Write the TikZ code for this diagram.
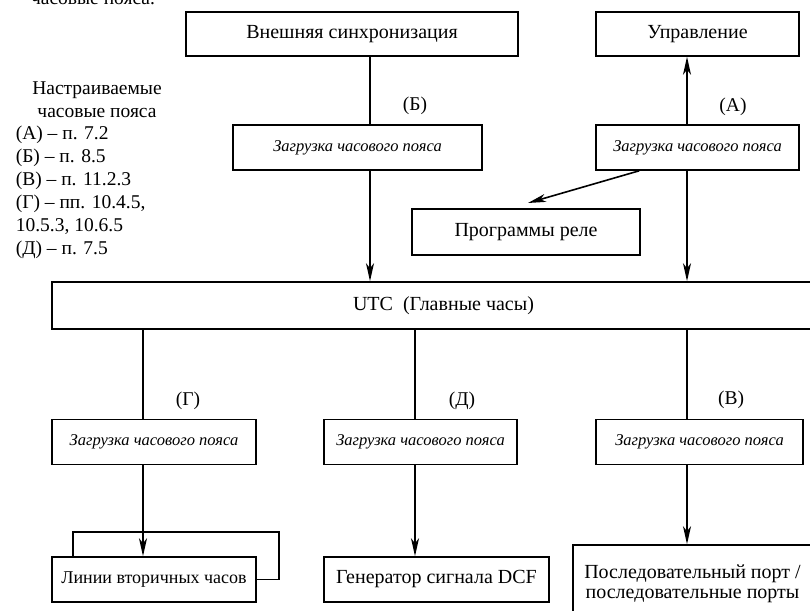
\documentclass[tikz,border=0pt]{standalone}
\usepackage{fontspec}
\setmainfont{Liberation Serif}
\usetikzlibrary{arrows.meta}

\tikzset{
  blk/.style={draw, inner sep=0pt, minimum height=44pt, font=\fontsize{20}{20.5}\selectfont},
  tzbox/.style={blk, minimum height=45pt, font=\fontsize{16.5}{18}\selectfont\itshape},
  lbl/.style={inner sep=0pt, font=\fontsize{19.5}{20}\selectfont},
}

\begin{document}
\begin{tikzpicture}[x=1pt, y=1pt, line width=1.6pt, >={Stealth[length=18pt,width=8pt,inset=5pt]}]
        \useasboundingbox (0,0) rectangle (810,610);
        \clip (0,0) rectangle (810,610);
        % legend on the left
        \node[lbl, anchor=base] (capt) at (93,605) {часовые пояса.};
        \node[lbl, anchor=base] (lgh1) at (97,515) {Настраиваемые};
        \node[lbl, anchor=base] (lgh2) at (97,492) {часовые пояса};
        \node[lbl, anchor=base west] (lga) at (15,470) {(А) – п. 7.2};
        \node[lbl, anchor=base west] (lgb) at (15,447) {(Б) – п. 8.5};
        \node[lbl, anchor=base west] (lgv) at (15,424) {(В) – п. 11.2.3};
        \node[lbl, anchor=base west] (lgg) at (15,401) {(Г) – пп. 10.4.5,};
        \node[lbl, anchor=base west] (lgg2) at (15,378) {10.5.3, 10.6.5};
        \node[lbl, anchor=base west] (lgd) at (15,355) {(Д) – п. 7.5};
        % upper row
        \node[blk, minimum width=332pt] (ext) at (352,576) {Внешняя синхронизация};
        \node[blk, minimum width=203pt] (ctrl) at (697.5,576) {Управление};
        \node[tzbox, minimum width=249pt] (tzb) at (357.5,462.5) {Загрузка часового пояса};
        \node[tzbox, minimum width=203pt] (tza) at (697.5,462.5) {Загрузка часового пояса};
        \node[blk, minimum width=228pt, minimum height=46pt] (relay) at (526,378) {Программы реле};
        \node[blk, minimum width=783pt, minimum height=47pt] (utc) at (443.5,304.5) {UTC\ \ (Главные часы)};
        % lower row
        \node[tzbox, minimum width=204pt] (tzg) at (154,168) {Загрузка часового пояса};
        \node[tzbox, minimum width=193pt] (tzd) at (420.5,168) {Загрузка часового пояса};
        \node[tzbox, minimum width=207pt] (tzv) at (699.5,168) {Загрузка часового пояса};
        \node[blk, minimum width=204pt, minimum height=45pt, font=\fontsize{18}{20}\selectfont] (sec) at (154,30.5) {Линии вторичных часов};
        \node[blk, minimum width=225pt, minimum height=45pt] (dcf) at (436.5,30.5) {Генератор сигнала DCF};
        \node[blk, minimum width=239pt, minimum height=78pt, align=center] (ser) at (692.5,26) {Последовательный порт /\\последовательные порты};
        % line positions
        \coordinate (xb) at (370,0);
        \coordinate (xa) at (687,0);
        \coordinate (xg) at (143,0);
        \coordinate (xd) at (415,0);
        \coordinate (relaytip) at (528,407);
        % connectors
        \draw (xb |- ext.south) -- (xb |- tzb.north);
        \draw[->] (xb |- tzb.south) -- (xb |- utc.north);
        \draw[->] (xa |- tza.north) -- (xa |- ctrl.south);
        \draw[->] (xa |- tza.south) -- (xa |- utc.north);
        \draw[->] ([xshift=44pt]tza.south west) -- (relaytip);
        \draw (xg |- utc.south) -- (xg |- tzg.north);
        \draw[->] (xg |- tzg.south) -- (xg |- sec.north);
        \draw (xd |- utc.south) -- (xd |- tzd.north);
        \draw[->] (xd |- tzd.south) -- (xd |- dcf.north);
        \draw (xa |- utc.south) -- (xa |- tzv.north);
        \draw[->] (xa |- tzv.south) -- (xa |- ser.north);
        \draw ([xshift=22pt]sec.north west) |- ([xshift=22pt,yshift=24pt]sec.north east) |- (sec.east);
        % branch labels
        \node[lbl] (lb) at (415,504) {(Б)};
        \node[lbl] (la) at (733,503) {(А)};
        \node[lbl] (lg) at (188,209) {(Г)};
        \node[lbl] (ld) at (462,209) {(Д)};
        \node[lbl] (lv) at (731,210) {(В)};
\end{tikzpicture}
\end{document}
